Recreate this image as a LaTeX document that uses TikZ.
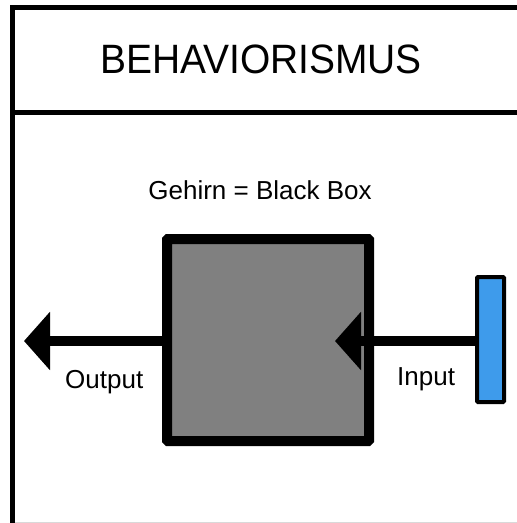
\documentclass[tikz,border=0pt]{standalone}
\usepackage{fontspec}
\setmainfont{Liberation Sans}
\usetikzlibrary{arrows.meta}
\definecolor{boxgray}{RGB}{128,128,128}
\definecolor{sensorblue}{RGB}{62,155,235}
\begin{document}
\begin{tikzpicture}[x=1pt,y=-1pt,
  frameline/.style={line width=5pt, line join=miter},
  blackbox/.style={draw, line width=10pt, fill=boxgray, minimum width=202pt, minimum height=202pt, inner sep=0pt, rounded corners=1pt},
  sensor/.style={draw, line width=4pt, fill=sensorblue, minimum width=27pt, minimum height=125pt, inner sep=0pt, rounded corners=1pt},
  arrowline/.style={line width=10pt, -{Triangle[length=26pt,width=57pt]}},
  lbl/.style={inner sep=0pt, font=\fontsize{26}{30}\selectfont},
  titlelbl/.style={inner sep=0pt, xscale=0.95, font=\fontsize{41}{46}\selectfont}]
\useasboundingbox (0,0) rectangle (517,523);
\fill[white] (0,0) rectangle (517,523);
% frame
\draw[frameline] (517,7) -- (12.5,7) -- (12.5,523);
\draw[frameline] (12.5,112.5) -- (517,112.5);
\draw[black!15, line width=1pt] (15,522.5) -- (517,522.5);
% title
\node[titlelbl, anchor=base] (title) at (261,73) {BEHAVIORISMUS};
% black box
\node[blackbox] (box) at (268,340) {};
\node[lbl, anchor=base] (boxlbl) at (260,199) {Gehirn = Black Box};
% sensor
\node[sensor] (sensor) at (490.5,339.5) {};
% arrows
\coordinate (tipout) at (24,341);
\coordinate (tipin) at (335,341);
\draw[arrowline] (box.west |- tipout) -- (tipout);
\draw[arrowline] (sensor.west |- tipin) -- (tipin);
% labels
\node[lbl, anchor=base west] (outlbl) at (65,388) {Output};
\node[lbl, anchor=base west] (inlbl) at (397,385) {Input};
\end{tikzpicture}
\end{document}
